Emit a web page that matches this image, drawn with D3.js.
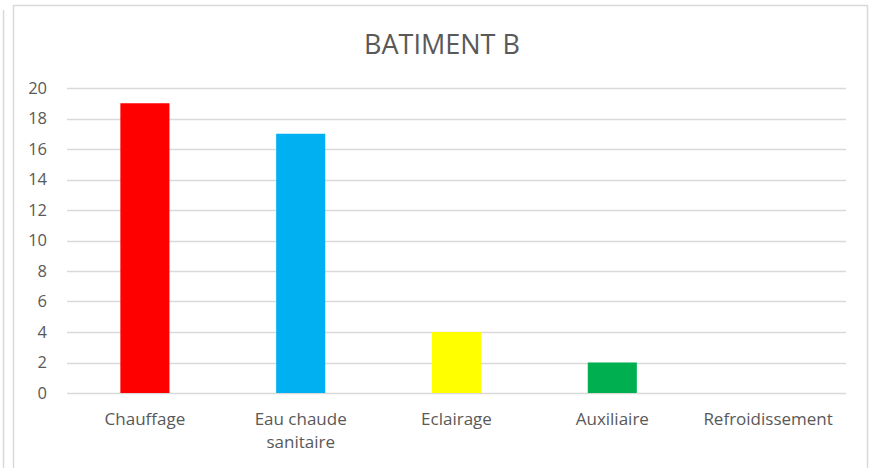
<!DOCTYPE html>
<html><head><meta charset="utf-8">
<script src="https://cdn.jsdelivr.net/npm/d3@7"></script>
<style>body{margin:0;background:#fff;}svg{display:block;}</style>
</head><body>
<script>
const categories = [["Chauffage"], ["Eau chaude", "sanitaire"], ["Eclairage"], ["Auxiliaire"], ["Refroidissement"]];
const values = [19, 17, 4, 2, 0];
const colors = ["#ff0000", "#00b0f0", "#ffff00", "#00b050", "#7030a0"];
const yTicks = [0, 2, 4, 6, 8, 10, 12, 14, 16, 18, 20];
const title = "BATIMENT B";

const W = 870, H = 468;
const svg = d3.select("body").append("svg").attr("width", W).attr("height", H);
const font = "'Open Sans', sans-serif";

// borders
svg.append("line").attr("x1", 3.5).attr("x2", 3.5).attr("y1", 10).attr("y2", H).attr("stroke", "#d9d9d9").attr("stroke-width", 1.5);
svg.append("rect").attr("x", 13.5).attr("y", 5.5).attr("width", 854).attr("height", 480)
  .attr("fill", "#fff").attr("stroke", "#d9d9d9").attr("stroke-width", 1.5);

const x = d3.scaleBand().domain(d3.range(categories.length)).range([67, 846]).paddingInner(0.685).paddingOuter(0.3425);
const y = d3.scaleLinear().domain([0, 20]).range([393, 88]);

// gridlines
svg.append("g").selectAll("line").data(yTicks).join("line")
  .attr("x1", 67).attr("x2", 846)
  .attr("y1", d => Math.round(y(d)) + 0.5).attr("y2", d => Math.round(y(d)) + 0.5)
  .attr("stroke", "#d9d9d9").attr("stroke-width", 1.3);

// y axis labels
const yAxis = d3.axisLeft(y).tickValues(yTicks).tickSize(0).tickPadding(0);
const gy = svg.append("g").attr("transform", "translate(47,0)").call(yAxis);
gy.select(".domain").remove();
gy.selectAll("text").attr("font-family", font).attr("font-size", 16.5).attr("fill", "#595959").attr("text-anchor", "end");

// bars
svg.append("g").selectAll("rect").data(values).join("rect")
  .attr("x", (d, i) => x(i)).attr("width", x.bandwidth())
  .attr("y", d => y(d)).attr("height", d => y(0) - y(d))
  .attr("fill", (d, i) => colors[i]);

// x labels
const gx = svg.append("g");
categories.forEach((lines, i) => {
  const t = gx.append("text").attr("x", x(i) + x.bandwidth() / 2).attr("y", 425)
    .attr("text-anchor", "middle").attr("font-family", font).attr("font-size", 17).attr("fill", "#595959");
  lines.forEach((l, j) => t.append("tspan").attr("x", x(i) + x.bandwidth() / 2).attr("dy", j ? 23 : 0).text(l));
});

// title
svg.append("text").attr("x", 442).attr("y", 54).attr("text-anchor", "middle")
  .attr("font-family", font).attr("font-size", 27).attr("fill", "#595959").text(title);
</script>
</body></html>
